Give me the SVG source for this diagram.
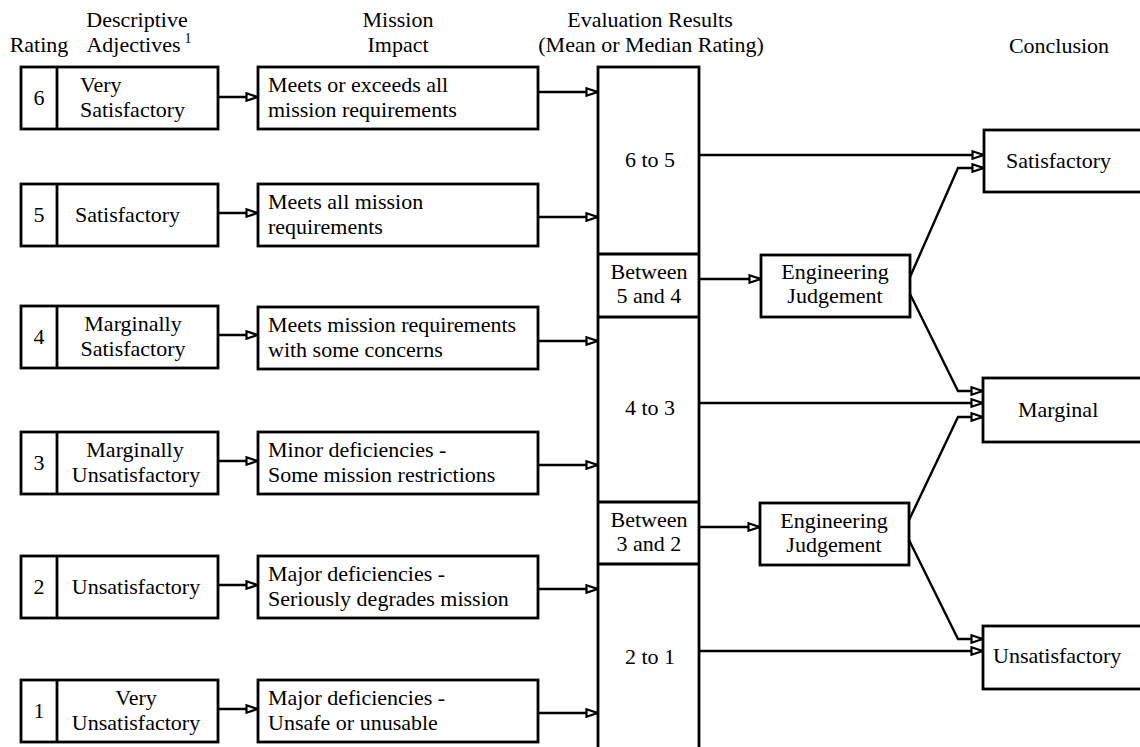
<svg xmlns="http://www.w3.org/2000/svg" width="1140" height="747" viewBox="0 0 1140 747" font-family="'Liberation Serif', 'Times New Roman', Times, 'DejaVu Serif', serif">
<style>
text{font-family:'Liberation Serif','Times New Roman',Times,'DejaVu Serif',serif;font-size:22px;fill:#000}
.box{fill:#fff;stroke:#000;stroke-width:2.8}
.c{text-anchor:middle}
.ln{fill:none;stroke:#000;stroke-width:2.4;marker-end:url(#ah)}
.sep{stroke:#000;stroke-width:2.8}
</style>
<defs>
<marker id="ah" viewBox="0 0 14 10" refX="13" refY="5" markerWidth="14" markerHeight="10" markerUnits="userSpaceOnUse" orient="auto">
<path d="M1.5,1.3 L12.5,5 L1.5,8.7 z" fill="#fff" stroke="#000" stroke-width="2.2"/>
</marker>
</defs>
<g id="headers">
<text x="39" y="52" class="c">Rating</text>
<text x="137" y="27" class="c">Descriptive</text>
<text x="139" y="52" class="c">Adjectives<tspan dx="4" dy="-9" font-size="14">1</tspan></text>
<text x="398" y="27" class="c">Mission</text>
<text x="398" y="52" class="c">Impact</text>
<text x="650" y="27" class="c">Evaluation Results</text>
<text x="651" y="52" class="c">(Mean or Median Rating)</text>
<text x="1059" y="53" class="c">Conclusion</text>
</g>
<g id="row6">
<rect class="box" x="21" y="67" width="197" height="62"/><line class="sep" x1="57" y1="67" x2="57" y2="129"/>
<text x="39" y="105" class="c">6</text>
<text x="80" y="92">Very</text><text x="80" y="117">Satisfactory</text>
</g>
<g id="row5">
<rect class="box" x="21" y="184" width="197" height="62"/><line class="sep" x1="57" y1="184" x2="57" y2="246"/>
<text x="39" y="222" class="c">5</text>
<text x="75" y="222">Satisfactory</text>
</g>
<g id="row4">
<rect class="box" x="21" y="306" width="197" height="62"/><line class="sep" x1="57" y1="306" x2="57" y2="368"/>
<text x="39" y="344" class="c">4</text>
<text x="133" y="331" class="c">Marginally</text><text x="133" y="356" class="c">Satisfactory</text>
</g>
<g id="row3">
<rect class="box" x="21" y="432" width="197" height="62"/><line class="sep" x1="57" y1="432" x2="57" y2="494"/>
<text x="39" y="470" class="c">3</text>
<text x="135" y="457" class="c">Marginally</text><text x="136" y="482" class="c">Unsatisfactory</text>
</g>
<g id="row2">
<rect class="box" x="21" y="556" width="197" height="62"/><line class="sep" x1="57" y1="556" x2="57" y2="618"/>
<text x="39" y="594" class="c">2</text>
<text x="136" y="594" class="c">Unsatisfactory</text>
</g>
<g id="row1">
<rect class="box" x="21" y="680" width="197" height="62"/><line class="sep" x1="57" y1="680" x2="57" y2="742"/>
<text x="39" y="718" class="c">1</text>
<text x="136" y="705" class="c">Very</text><text x="136" y="730" class="c">Unsatisfactory</text>
</g>
<g id="impact6"><rect class="box" x="258" y="67" width="280" height="62"/><text x="268" y="92">Meets or exceeds all</text><text x="268" y="117">mission requirements</text></g>
<g id="impact5"><rect class="box" x="258" y="184" width="280" height="62"/><text x="268" y="209">Meets all mission</text><text x="268" y="234">requirements</text></g>
<g id="impact4"><rect class="box" x="258" y="307" width="280" height="62"/><text x="268" y="332">Meets mission requirements</text><text x="268" y="357">with some concerns</text></g>
<g id="impact3"><rect class="box" x="258" y="432" width="280" height="62"/><text x="268" y="457">Minor deficiencies -</text><text x="268" y="482">Some mission restrictions</text></g>
<g id="impact2"><rect class="box" x="258" y="556" width="280" height="62"/><text x="268" y="581">Major deficiencies -</text><text x="268" y="606">Seriously degrades mission</text></g>
<g id="impact1"><rect class="box" x="258" y="680" width="280" height="62"/><text x="268" y="705">Major deficiencies -</text><text x="268" y="730">Unsafe or unusable</text></g>
<g id="evaluation">
<rect class="box" x="598" y="67" width="101" height="700"/>
<line class="sep" x1="598" y1="254" x2="699" y2="254"/><line class="sep" x1="598" y1="317" x2="699" y2="317"/>
<line class="sep" x1="598" y1="502" x2="699" y2="502"/><line class="sep" x1="598" y1="564" x2="699" y2="564"/>
<text x="650" y="167" class="c">6 to 5</text>
<text x="649" y="279" class="c">Between</text><text x="649" y="303" class="c">5 and 4</text>
<text x="650" y="415" class="c">4 to 3</text>
<text x="649" y="527" class="c">Between</text><text x="649" y="551" class="c">3 and 2</text>
<text x="650" y="664" class="c">2 to 1</text>
</g>
<g id="judgement1"><rect class="box" x="761" y="255" width="149" height="62"/><text x="835" y="279" class="c">Engineering</text><text x="835" y="303" class="c">Judgement</text></g>
<g id="judgement2"><rect class="box" x="760" y="503" width="149" height="62"/><text x="834" y="528" class="c">Engineering</text><text x="834" y="552" class="c">Judgement</text></g>
<g id="satisfactory"><rect class="box" x="984" y="130" width="170" height="62"/><text x="1006" y="168">Satisfactory</text></g>
<g id="marginal"><rect class="box" x="983" y="378" width="170" height="64"/><text x="1018" y="417">Marginal</text></g>
<g id="unsatisfactory"><rect class="box" x="983" y="626" width="170" height="63"/><text x="993" y="663">Unsatisfactory</text></g>
<g id="connectors">
<line class="ln" x1="218" y1="97" x2="258" y2="97"/>
<line class="ln" x1="218" y1="213" x2="258" y2="213"/>
<line class="ln" x1="218" y1="335" x2="258" y2="335"/>
<line class="ln" x1="218" y1="461" x2="258" y2="461"/>
<line class="ln" x1="218" y1="585" x2="258" y2="585"/>
<line class="ln" x1="218" y1="709" x2="258" y2="709"/>
<line class="ln" x1="538" y1="92" x2="598" y2="92"/>
<line class="ln" x1="538" y1="217" x2="598" y2="217"/>
<line class="ln" x1="538" y1="341" x2="598" y2="341"/>
<line class="ln" x1="538" y1="465" x2="598" y2="465"/>
<line class="ln" x1="538" y1="589" x2="598" y2="589"/>
<line class="ln" x1="538" y1="713" x2="598" y2="713"/>
<line class="ln" x1="699" y1="279" x2="761" y2="279"/>
<line class="ln" x1="699" y1="527" x2="760" y2="527"/>
<line class="ln" x1="699" y1="155" x2="984" y2="155"/>
<line class="ln" x1="699" y1="403" x2="983" y2="403"/>
<line class="ln" x1="699" y1="651" x2="983" y2="651"/>
<polyline class="ln" points="910,277 958,168 984,168"/>
<polyline class="ln" points="910,294 958,391 983,391"/>
<polyline class="ln" points="909,520 958,417 983,417"/>
<polyline class="ln" points="909,540 958,639 983,639"/>
</g>
</svg>
